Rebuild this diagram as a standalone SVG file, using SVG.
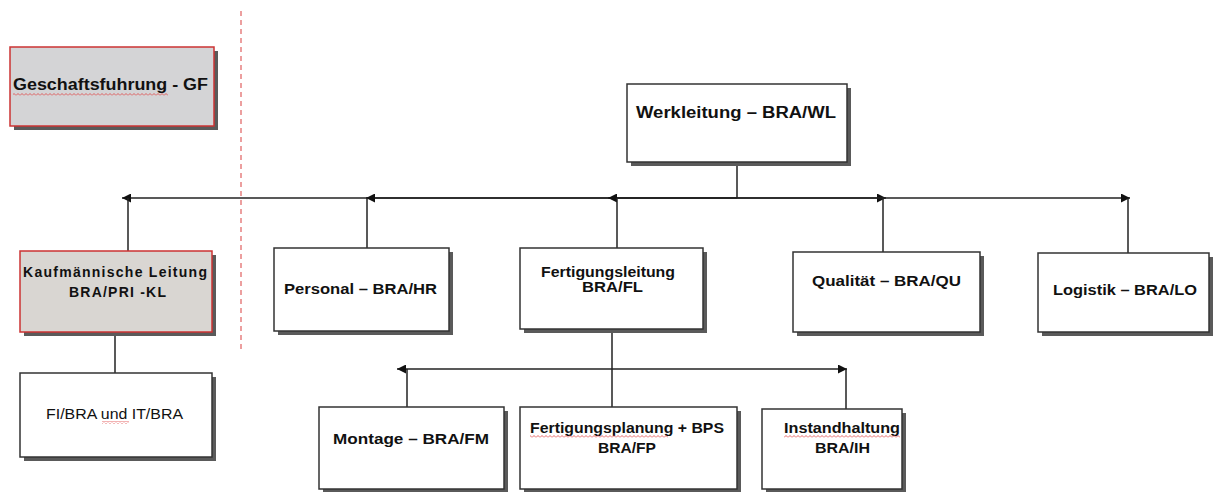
<svg xmlns="http://www.w3.org/2000/svg" width="1214" height="492" viewBox="0 0 1214 492">
  <style>
    .box { fill: #ffffff; stroke: #333333; stroke-width: 1.5; }
    .redbox { stroke: #cc3333; stroke-width: 1.5; }
    .shadow { fill: #5a5a5a; }
    .lbl { font-family: "Liberation Sans", Arial, sans-serif; font-weight: bold; font-size: 14px; fill: #111111; }
    .big { font-size: 16px; }
    .reg { font-weight: normal; }
    .conn { stroke: #222222; stroke-width: 1.5; fill: none; }
    .wave { fill: url(#wave); }
  </style>
  <defs>
    <marker id="arr" viewBox="0 0 10 10" refX="10" refY="5" markerWidth="9" markerHeight="9" markerUnits="userSpaceOnUse" orient="auto">
      <path d="M0,0 L10,5 L0,10 z" fill="#111111"/>
    </marker>
    <pattern id="wave" width="4" height="3" patternUnits="userSpaceOnUse">
      <path d="M0,2.5 L2,0.5 L4,2.5" stroke="#e04040" stroke-width="0.8" fill="none"/>
    </pattern>
  </defs>

  <rect width="1214" height="492" fill="#ffffff"/>

  <!-- dashed separator -->
  <line x1="241" y1="11" x2="241" y2="350" stroke="#e06060" stroke-width="1.2" stroke-dasharray="5,4"/>

  <g id="connectors">
    <line class="conn" x1="737" y1="162" x2="737" y2="198"/>
    <line class="conn" x1="737" y1="198" x2="122" y2="198" marker-end="url(#arr)"/>
    <line class="conn" x1="128" y1="198" x2="128" y2="251"/>
    <line class="conn" x1="737" y1="198" x2="366" y2="198" marker-end="url(#arr)"/>
    <line class="conn" x1="367" y1="198" x2="367" y2="248"/>
    <line class="conn" x1="737" y1="198" x2="608" y2="198" marker-end="url(#arr)"/>
    <line class="conn" x1="617" y1="198" x2="617" y2="248"/>
    <line class="conn" x1="737" y1="198" x2="886" y2="198" marker-end="url(#arr)"/>
    <line class="conn" x1="883" y1="198" x2="883" y2="252"/>
    <line class="conn" x1="737" y1="198" x2="1130" y2="198" marker-end="url(#arr)"/>
    <line class="conn" x1="1128" y1="198" x2="1128" y2="253"/>
    <line class="conn" x1="115" y1="332" x2="115" y2="373"/>
    <line class="conn" x1="612" y1="329" x2="612" y2="407"/>
    <line class="conn" x1="612" y1="369" x2="397" y2="369" marker-end="url(#arr)"/>
    <line class="conn" x1="407" y1="369" x2="407" y2="407"/>
    <line class="conn" x1="612" y1="369" x2="847" y2="369" marker-end="url(#arr)"/>
    <line class="conn" x1="846" y1="369" x2="846" y2="409"/>
  </g>

  <g id="gf">
    <rect class="shadow" x="14" y="51" width="204" height="79"/>
    <rect class="redbox" x="10" y="47" width="204" height="79" fill="#d4d4d6"/>
    <text class="lbl big" x="13" y="90" textLength="195" lengthAdjust="spacingAndGlyphs">Geschaftsfuhrung - GF</text>
    <rect class="wave" x="13" y="93" width="155" height="3"/>
  </g>

  <g id="wl">
    <rect class="shadow" x="631" y="88" width="220" height="78"/>
    <rect class="box" x="627" y="84" width="220" height="78"/>
    <text class="lbl big" x="636" y="118" textLength="200" lengthAdjust="spacingAndGlyphs">Werkleitung – BRA/WL</text>
  </g>

  <g id="kl">
    <rect class="shadow" x="24" y="255" width="192" height="81"/>
    <rect class="redbox" x="20" y="251" width="192" height="81" fill="#d9d6d2"/>
    <text class="lbl" x="23" y="277" textLength="184" lengthAdjust="spacing">Kaufmännische Leitung</text>
    <text class="lbl" x="69" y="297" textLength="97" lengthAdjust="spacing">BRA/PRI -KL</text>
  </g>

  <g id="fi">
    <rect class="shadow" x="24" y="377" width="192" height="84"/>
    <rect class="box" x="20" y="373" width="192" height="84"/>
    <text class="lbl reg" x="46" y="419" textLength="137" lengthAdjust="spacingAndGlyphs">FI/BRA und IT/BRA</text>
    <rect class="wave" x="102" y="421" width="27" height="3"/>
  </g>

  <g id="hr">
    <rect class="shadow" x="278" y="252" width="175" height="83"/>
    <rect class="box" x="274" y="248" width="175" height="83"/>
    <text class="lbl" x="284" y="294" textLength="153" lengthAdjust="spacingAndGlyphs">Personal – BRA/HR</text>
  </g>

  <g id="fl">
    <rect class="shadow" x="524" y="252" width="183" height="81"/>
    <rect class="box" x="520" y="248" width="183" height="81"/>
    <text class="lbl" x="541" y="277" textLength="134" lengthAdjust="spacingAndGlyphs">Fertigungsleitung</text>
    <text class="lbl" x="582" y="292" textLength="61" lengthAdjust="spacingAndGlyphs">BRA/FL</text>
  </g>

  <g id="qu">
    <rect class="shadow" x="797" y="256" width="187" height="80"/>
    <rect class="box" x="793" y="252" width="187" height="80"/>
    <text class="lbl" x="812" y="286" textLength="149" lengthAdjust="spacingAndGlyphs">Qualität – BRA/QU</text>
  </g>

  <g id="lo">
    <rect class="shadow" x="1042" y="257" width="171" height="79"/>
    <rect class="box" x="1038" y="253" width="171" height="79"/>
    <text class="lbl" x="1053" y="295" textLength="144" lengthAdjust="spacingAndGlyphs">Logistik – BRA/LO</text>
  </g>

  <g id="fm">
    <rect class="shadow" x="323" y="411" width="185" height="82"/>
    <rect class="box" x="319" y="407" width="185" height="82"/>
    <text class="lbl" x="333" y="444" textLength="156" lengthAdjust="spacingAndGlyphs">Montage – BRA/FM</text>
  </g>

  <g id="fp">
    <rect class="shadow" x="524" y="411" width="217" height="82"/>
    <rect class="box" x="520" y="407" width="217" height="82"/>
    <text class="lbl" x="530" y="433" textLength="194" lengthAdjust="spacingAndGlyphs">Fertigungsplanung + BPS</text>
    <rect class="wave" x="530" y="435" width="138" height="3"/>
    <text class="lbl" x="598" y="453" textLength="58" lengthAdjust="spacingAndGlyphs">BRA/FP</text>
  </g>

  <g id="ih">
    <rect class="shadow" x="766" y="413" width="140" height="80"/>
    <rect class="box" x="762" y="409" width="140" height="80"/>
    <text class="lbl" x="784" y="433" textLength="116" lengthAdjust="spacingAndGlyphs">Instandhaltung</text>
    <rect class="wave" x="784" y="435" width="116" height="3"/>
    <text class="lbl" x="815" y="453" textLength="55" lengthAdjust="spacingAndGlyphs">BRA/IH</text>
  </g>
</svg>
